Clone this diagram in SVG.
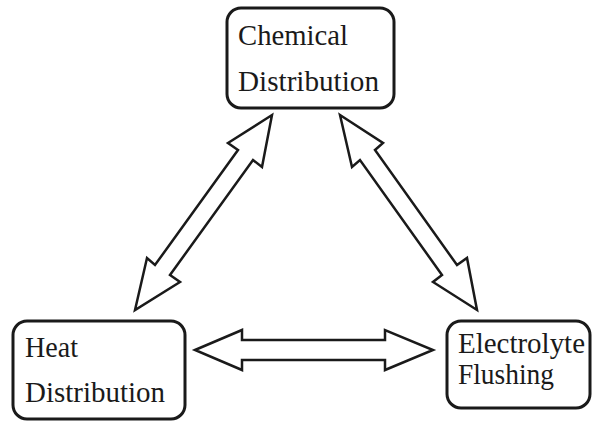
<svg xmlns="http://www.w3.org/2000/svg" width="598" height="421" viewBox="0 0 598 421">
  <style>
    .box { fill: #fff; stroke: #1a1a1a; stroke-width: 3; }
    .lbl { font-family: "Liberation Serif", "Times New Roman", Tinos, "Nimbus Roman", "Nimbus Roman No9 L", FreeSerif, "DejaVu Serif", "Noto Serif", Georgia, serif; font-size: 29px; fill: #1a1a1a; }
    .arrow { fill: #fff; stroke: #1a1a1a; stroke-width: 2.5; stroke-linejoin: miter; }
  </style>
  <rect width="598" height="421" fill="#fff"/>

  <g id="connectors">
    <!-- Chemical <-> Heat -->
    <polygon class="arrow" points="272,115 262,167 253,160 170,275 180,282 135,310 147,258 155,265 238,150 228,143"/>
    <!-- Chemical <-> Electrolyte -->
    <polygon class="arrow" points="340,115 383,143 375,150 457,265 467,258 477,310 433,282 442,275 360,160 352,167"/>
    <!-- Heat <-> Electrolyte -->
    <polygon class="arrow" points="195,350 242,330 242,340 385,340 385,330 433,350 385,370 385,360 242,360 242,370"/>
  </g>

  <g id="chemical">
    <rect class="box" x="227" y="8" width="167" height="100" rx="14"/>
    <text class="lbl" x="238" y="45" textLength="110" lengthAdjust="spacingAndGlyphs">Chemical</text>
    <text class="lbl" x="238" y="91" textLength="141" lengthAdjust="spacingAndGlyphs">Distribution</text>
  </g>

  <g id="heat">
    <rect class="box" x="13" y="321" width="172" height="98" rx="14"/>
    <text class="lbl" x="25" y="357" textLength="53" lengthAdjust="spacingAndGlyphs">Heat</text>
    <text class="lbl" x="25" y="402" textLength="140" lengthAdjust="spacingAndGlyphs">Distribution</text>
  </g>

  <g id="electrolyte">
    <rect class="box" x="447" y="321" width="143" height="87" rx="14"/>
    <text class="lbl" x="458" y="353" textLength="127" lengthAdjust="spacingAndGlyphs">Electrolyte</text>
    <text class="lbl" x="458" y="384" textLength="96" lengthAdjust="spacingAndGlyphs">Flushing</text>
  </g>
</svg>
